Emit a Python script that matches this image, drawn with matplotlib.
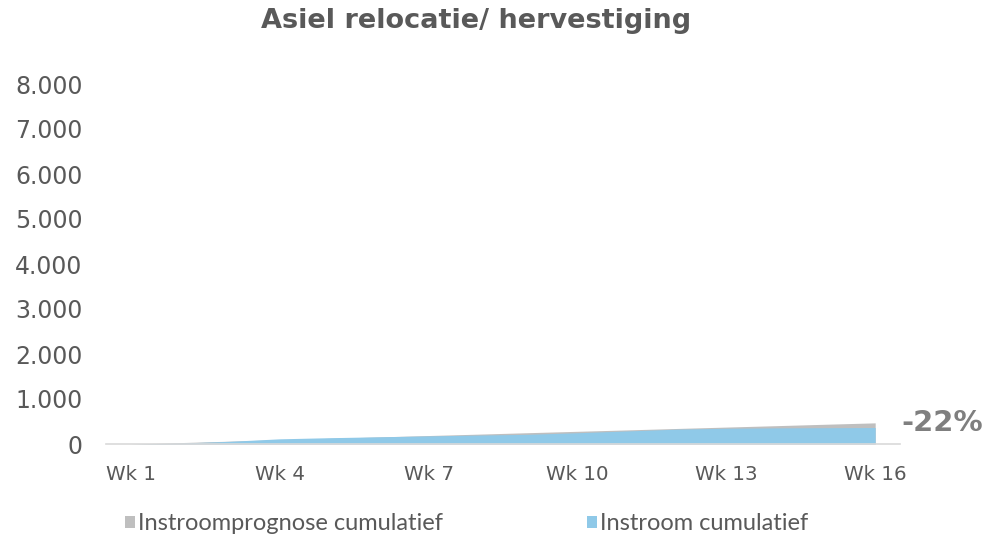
import numpy as np
import matplotlib.pyplot as plt

weeks = [f"Wk {i}" for i in range(1, 17)]
tick_labels = ["Wk 1", "Wk 4", "Wk 7", "Wk 10", "Wk 13", "Wk 16"]
prognose = [0, 31, 63, 94, 125, 157, 188, 219, 251, 282, 313, 345, 376, 407, 439, 470]
instroom = [0, 20, 60, 115, 140, 160, 180, 198, 215, 250, 290, 330, 350, 358, 362, 366]
yticks = [0, 1000, 2000, 3000, 4000, 5000, 6000, 7000, 8000]

GREY = "#BFBFBF"
BLUE = "#8FC9E8"
TXT = "#595959"

fig = plt.figure(figsize=(9.9, 5.39), dpi=100)
ax = fig.add_axes([106 / 990, 1 - 444 / 539, 794 / 990, 360 / 539])

x = np.arange(len(weeks))
h1 = ax.fill_between(x, prognose, color=GREY, lw=0, label="Instroomprognose cumulatief")
h2 = ax.fill_between(x, instroom, color=BLUE, lw=0, label="Instroom cumulatief")

ax.set_xlim(-0.5, len(weeks) - 0.5)
ax.set_ylim(0, 8000)
ax.set_yticks(yticks)
ax.set_yticklabels([f"{v:,}".replace(",", ".") for v in yticks], fontsize=17, color=TXT)
ax.set_xticks([weeks.index(t) for t in tick_labels])
ax.set_xticklabels(tick_labels, fontsize=14.3, color=TXT)
ax.tick_params(length=0)
ax.tick_params(axis="y", pad=17)
ax.tick_params(axis="x", pad=15)
for s in ["top", "right", "left"]:
    ax.spines[s].set_visible(False)
ax.spines["bottom"].set_color("#D9D9D9")
ax.spines["bottom"].set_linewidth(1.2)

change = instroom[-1] / prognose[-1] - 1
ax.annotate(f"{change:.0%}", xy=(x[-1], prognose[-1]), xytext=(19, 0), textcoords="offset points",
            fontsize=21, fontweight="bold", color="#7F7F7F", va="center", ha="left")

fig.text(476 / 990, 1 - 21 / 539, "Asiel relocatie/ hervestiging", ha="center", va="center",
         fontsize=19.5, fontweight="bold", color=TXT)

leg = fig.legend(handles=[h1, h2], loc="center left", bbox_to_anchor=(104 / 990, 1 - 524 / 539),
                 ncol=2, frameon=False, columnspacing=6.1, handlelength=0.42, handleheight=0.42,
                 handletextpad=0.12, prop={"family": "Lato", "size": 17})
for t in leg.get_texts():
    t.set_color(TXT)

fig.savefig("out.png", dpi=100)
